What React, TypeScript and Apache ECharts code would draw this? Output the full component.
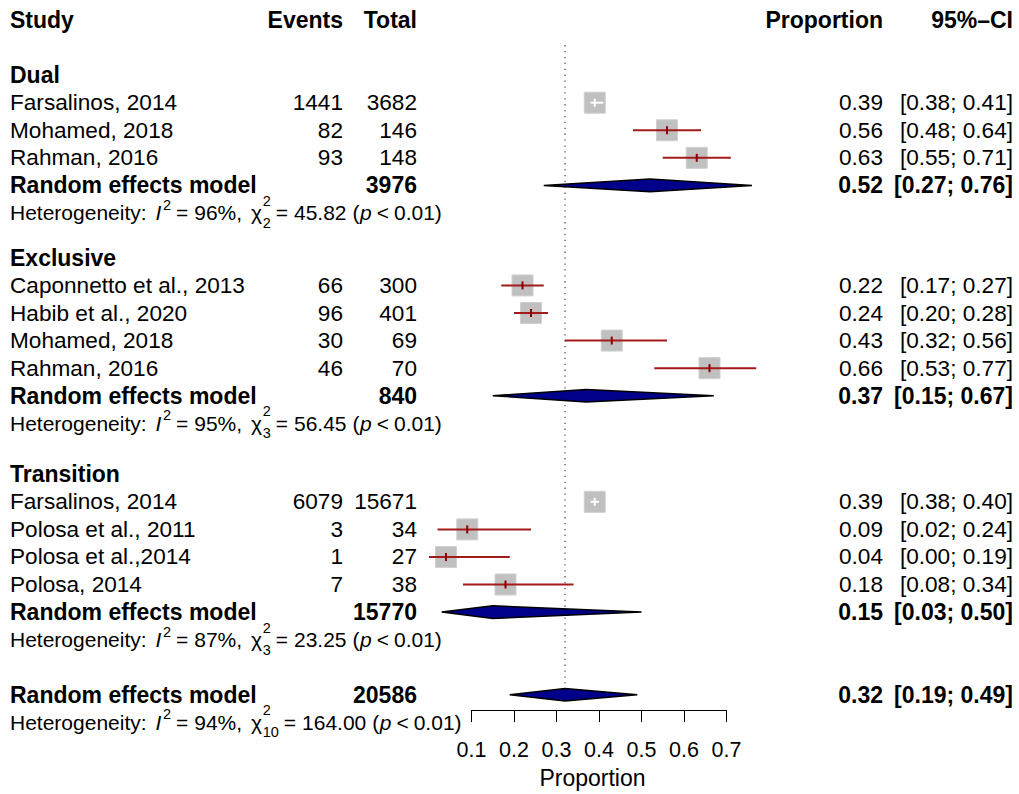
import React, { useEffect, useRef } from "react";
import * as echarts from "echarts";

// ---- data ----
const groupLabels = ["Dual", "Exclusive", "Transition"];

const studyNames = [
  "Farsalinos, 2014",
  "Mohamed, 2018",
  "Rahman, 2016",
  "Caponnetto et al., 2013",
  "Habib et al., 2020",
  "Mohamed, 2018",
  "Rahman, 2016",
  "Farsalinos, 2014",
  "Polosa et al., 2011",
  "Polosa et al.,2014",
  "Polosa, 2014",
];
const studyGroup = [0, 0, 0, 1, 1, 1, 1, 2, 2, 2, 2];
const studyEvents = [1441, 82, 93, 66, 96, 30, 46, 6079, 3, 1, 7];
const studyTotals = [3682, 146, 148, 300, 401, 69, 70, 15671, 34, 27, 38];
const studyProp = [0.39, 0.56, 0.63, 0.22, 0.24, 0.43, 0.66, 0.39, 0.09, 0.04, 0.18];
const studyLower = [0.38, 0.48, 0.55, 0.17, 0.2, 0.32, 0.53, 0.38, 0.02, 0.0, 0.08];
const studyUpper = [0.41, 0.64, 0.71, 0.27, 0.28, 0.56, 0.77, 0.4, 0.24, 0.19, 0.34];

const subgroupTotals = [3976, 840, 15770];
const subgroupProp = [0.52, 0.37, 0.15];
const subgroupLower = [0.27, 0.15, 0.03];
const subgroupUpper = [0.76, 0.67, 0.5];
const subgroupI2 = [96, 95, 87];
const subgroupDf = [2, 3, 3];
const subgroupQ = [45.82, 56.45, 23.25];
const subgroupP = ["0.01", "0.01", "0.01"];

const overallTotal = 20586;
const overallProp = 0.32;
const overallLower = 0.19;
const overallUpper = 0.49;
const overallI2 = 94;
const overallDf = 10;
const overallQ = 164.0;
const overallP = "0.01";

const axisTicks = [0.1, 0.2, 0.3, 0.4, 0.5, 0.6, 0.7];

const headers = {
  study: "Study",
  events: "Events",
  total: "Total",
  prop: "Proportion",
  ci: "95%\u2013CI",
};
const pooledLabel = "Random effects model";
const axisTitle = "Proportion";

// ---- layout ----
const W = 1019;
const H = 794;
const FONT = '"Liberation Sans", Arial, Helvetica, sans-serif';
const MAIN_SIZE = 22.6;
const BOLD_SIZE = 23;
const HET_SIZE = 21;
const SCRIPT_SIZE = 14.5;
const TICK_SIZE = 21.5;
const ROW_HEIGHT = 27.6;
const GRID_TOP = 20;
const GRID_BOTTOM = 83;
const Y_MAX = (H - GRID_TOP - GRID_BOTTOM) / ROW_HEIGHT;
const GROUP_START_ROW = [2, 8.63, 16.48];
const OVERALL_ROW = 24.48;
const REF_LINE_TOP_ROW = 0.91;
const REF_LINE_BOTTOM_ROW = 24.2;

const COL_STUDY = 10;
const COL_EVENTS = 343;
const COL_TOTAL = 417;
const COL_PROP = 883;
const COL_CI = 1013;

const SQUARE = 21;
const DIAMOND_HALF = 6.3;

const fmt2 = (v: number) => v.toFixed(2);
const ciText = (lo: number, hi: number) => `[${fmt2(lo)}; ${fmt2(hi)}]`;

// row positions for each study
const studyRow: number[] = [];
{
  const seen = [0, 0, 0];
  studyGroup.forEach((g) => {
    seen[g] += 1;
    studyRow.push(GROUP_START_ROW[g] + seen[g]);
  });
}
const groupCounts = groupLabels.map((_, g) => studyGroup.filter((x) => x === g).length);
const subgroupRow = groupLabels.map((_, g) => GROUP_START_ROW[g] + groupCounts[g] + 1);

type Row =
  | { kind: "header"; row: number }
  | { kind: "group"; row: number; g: number }
  | { kind: "study"; row: number; i: number }
  | { kind: "pooled"; row: number; total: number; est: number; lo: number; hi: number }
  | { kind: "het"; row: number; i2: number; df: number; q: number; p: string };

const tableRows: Row[] = [{ kind: "header", row: 0 }];
groupLabels.forEach((_, g) => {
  tableRows.push({ kind: "group", row: GROUP_START_ROW[g], g });
  studyGroup.forEach((sg, i) => {
    if (sg === g) tableRows.push({ kind: "study", row: studyRow[i], i });
  });
  tableRows.push({
    kind: "pooled",
    row: subgroupRow[g],
    total: subgroupTotals[g],
    est: subgroupProp[g],
    lo: subgroupLower[g],
    hi: subgroupUpper[g],
  });
  tableRows.push({
    kind: "het",
    row: subgroupRow[g] + 1,
    i2: subgroupI2[g],
    df: subgroupDf[g],
    q: subgroupQ[g],
    p: subgroupP[g],
  });
});
tableRows.push({
  kind: "pooled",
  row: OVERALL_ROW,
  total: overallTotal,
  est: overallProp,
  lo: overallLower,
  hi: overallUpper,
});
tableRows.push({ kind: "het", row: OVERALL_ROW + 1, i2: overallI2, df: overallDf, q: overallQ, p: overallP });

// ---- helpers ----
let measureCtx: CanvasRenderingContext2D | null = null;
function measure(text: string, size: number, italic = false, bold = false) {
  if (!measureCtx) measureCtx = document.createElement("canvas").getContext("2d");
  if (!measureCtx) return text.length * size * 0.55;
  measureCtx.font = `${italic ? "italic " : ""}${bold ? "bold " : ""}${size}px ${FONT}`;
  return measureCtx.measureText(text).width;
}

type TOpts = { size?: number; bold?: boolean; italic?: boolean; align?: "left" | "right" | "center" };
function textEl(text: string, x: number, y: number, o: TOpts = {}) {
  const align = o.align ?? "left";
  return {
    type: "text",
    x,
    y,
    silent: true,
    style: {
      text,
      fill: "#000",
      fontSize: o.size ?? (o.bold ? BOLD_SIZE : MAIN_SIZE),
      fontFamily: FONT,
      fontWeight: o.bold ? "bold" : "normal",
      fontStyle: o.italic ? "italic" : "normal",
      align,
      textAlign: align,
      verticalAlign: "middle",
      textVerticalAlign: "middle",
    },
  };
}

// heterogeneity statistics line, laid out piece by piece so the
// chi-square super- and subscript can be stacked
function hetElements(r: Extract<Row, { kind: "het" }>, y: number) {
  const out: any[] = [];
  let x = COL_STUDY;
  const put = (t: string, size: number, italic: boolean, dy: number) => {
    out.push(textEl(t, x, y + dy, { size, italic }));
    return measure(t, size, italic);
  };
  x += put("Heterogeneity:", HET_SIZE, false, 0) + 9;
  x += put("I", HET_SIZE, true, 0) + 1.5;
  x += put("2", SCRIPT_SIZE, false, -8) + 5;
  x += put("=", HET_SIZE, false, 0) + 6;
  x += put(`${r.i2}%,`, HET_SIZE, false, 0) + 9;
  x += put("\u03c7", HET_SIZE, false, 0) + 0.5;
  const wSup = put("2", SCRIPT_SIZE, false, -12);
  const wSub = put(String(r.df), SCRIPT_SIZE, false, 10);
  x += Math.max(wSup, wSub) + 5;
  x += put("=", HET_SIZE, false, 0) + 6;
  x += put(r.q.toFixed(2), HET_SIZE, false, 0) + 6;
  x += put("(", HET_SIZE, false, 0) + 0.5;
  x += put("p", HET_SIZE, true, 0) + 5;
  x += put("<", HET_SIZE, false, 0) + 5;
  put(`${r.p})`, HET_SIZE, false, 0);
  return out;
}

function tableRenderItem(params: any, api: any) {
  const r = tableRows[params.dataIndex];
  const y = api.coord([axisTicks[0], r.row])[1];
  let children: any[] = [];
  if (r.kind === "header") {
    children = [
      textEl(headers.study, COL_STUDY, y, { bold: true }),
      textEl(headers.events, COL_EVENTS, y, { bold: true, align: "right" }),
      textEl(headers.total, COL_TOTAL, y, { bold: true, align: "right" }),
      textEl(headers.prop, COL_PROP, y, { bold: true, align: "right" }),
      textEl(headers.ci, COL_CI, y, { bold: true, align: "right" }),
    ];
  } else if (r.kind === "group") {
    children = [textEl(groupLabels[r.g], COL_STUDY, y, { bold: true })];
  } else if (r.kind === "study") {
    const i = r.i;
    children = [
      textEl(studyNames[i], COL_STUDY, y),
      textEl(String(studyEvents[i]), COL_EVENTS, y, { align: "right" }),
      textEl(String(studyTotals[i]), COL_TOTAL, y, { align: "right" }),
      textEl(fmt2(studyProp[i]), COL_PROP, y, { align: "right" }),
      textEl(ciText(studyLower[i], studyUpper[i]), COL_CI, y, { align: "right" }),
    ];
  } else if (r.kind === "pooled") {
    children = [
      textEl(pooledLabel, COL_STUDY, y, { bold: true }),
      textEl(String(r.total), COL_TOTAL, y, { bold: true, align: "right" }),
      textEl(fmt2(r.est), COL_PROP, y, { bold: true, align: "right" }),
      textEl(ciText(r.lo, r.hi), COL_CI, y, { bold: true, align: "right" }),
    ];
  } else {
    children = hetElements(r, y);
  }
  return { type: "group", children };
}

function studyRenderItem(_params: any, api: any) {
  const est = api.value(0);
  const lo = api.value(1);
  const hi = api.value(2);
  const row = api.value(3);
  const [cx, cy] = api.coord([est, row]);
  const xLo = api.coord([lo, row])[0];
  const xHi = api.coord([hi, row])[0];
  const half = SQUARE / 2;
  const inside = xLo >= cx - half && xHi <= cx + half;
  const lineColor = inside ? "#ffffff" : "#a31a1a";
  const tickColor = inside ? "#ffffff" : "#8b0000";
  return {
    type: "group",
    children: [
      {
        type: "rect",
        shape: { x: cx - half, y: cy - half, width: SQUARE, height: SQUARE },
        style: { fill: "#c0c0c0", stroke: "#d0d0d0", lineWidth: 1 },
      },
      {
        type: "line",
        shape: { x1: xLo, y1: cy, x2: xHi, y2: cy },
        style: { stroke: lineColor, lineWidth: 2 },
      },
      {
        type: "line",
        shape: { x1: cx, y1: cy - 4, x2: cx, y2: cy + 4 },
        style: { stroke: tickColor, lineWidth: 2 },
      },
    ],
  };
}

function diamondRenderItem(_params: any, api: any) {
  const est = api.value(0);
  const lo = api.value(1);
  const hi = api.value(2);
  const row = api.value(3);
  const [cx, cy] = api.coord([est, row]);
  const xLo = api.coord([lo, row])[0];
  const xHi = api.coord([hi, row])[0];
  return {
    type: "polygon",
    shape: {
      points: [
        [xLo, cy],
        [cx, cy - DIAMOND_HALF],
        [xHi, cy],
        [cx, cy + DIAMOND_HALF],
      ],
    },
    style: { fill: "#00008b", stroke: "#000000", lineWidth: 1.5 },
  };
}

function refLineRenderItem(_params: any, api: any) {
  const v = api.value(0);
  const [x, y1] = api.coord([v, REF_LINE_TOP_ROW]);
  const y2 = api.coord([v, REF_LINE_BOTTOM_ROW])[1];
  return {
    type: "line",
    shape: { x1: x, y1, x2: x, y2 },
    style: { stroke: "#555555", lineWidth: 1.3, lineDash: [1.3, 4.6] },
  };
}

export default function App() {
  const ref = useRef<HTMLDivElement>(null);

  useEffect(() => {
    if (!ref.current) return;
    const chart = echarts.init(ref.current, undefined, { renderer: "svg" });

    const x0 = axisTicks[0];
    const x1 = axisTicks[axisTicks.length - 1];

    const diamondData = [
      ...subgroupProp.map((p, g) => [p, subgroupLower[g], subgroupUpper[g], subgroupRow[g]]),
      [overallProp, overallLower, overallUpper, OVERALL_ROW],
    ];

    chart.setOption({
      animation: false,
      backgroundColor: "#ffffff",
      textStyle: { fontFamily: FONT },
      grid: { left: 471.5, right: 292.5, top: GRID_TOP, bottom: GRID_BOTTOM, containLabel: false },
      xAxis: {
        type: "value",
        min: x0,
        max: x1,
        interval: 0.1,
        position: "bottom",
        name: axisTitle,
        nameLocation: "middle",
        nameGap: 55,
        nameTextStyle: {
          fontSize: BOLD_SIZE,
          color: "#000",
          fontFamily: FONT,
          padding: [0, 13, 0, 0],
        },
        axisLine: { show: true, onZero: false, lineStyle: { color: "#000", width: 1 } },
        axisTick: { show: true, length: 12, lineStyle: { color: "#000", width: 1 } },
        axisLabel: {
          fontSize: TICK_SIZE,
          color: "#000",
          fontFamily: FONT,
          margin: 29,
          formatter: (v: number) => v.toFixed(1),
        },
        splitLine: { show: false },
      },
      yAxis: {
        type: "value",
        inverse: true,
        min: 0,
        max: Y_MAX,
        show: false,
        splitLine: { show: false },
      },
      series: [
        {
          type: "custom",
          name: "reference",
          clip: false,
          silent: true,
          data: [[overallProp, OVERALL_ROW]],
          encode: { x: 0, y: 1 },
          renderItem: refLineRenderItem,
          z: 1,
        },
        {
          type: "custom",
          name: "studies",
          clip: false,
          silent: true,
          data: studyProp.map((p, i) => [p, studyLower[i], studyUpper[i], studyRow[i]]),
          encode: { x: 0, y: 3 },
          renderItem: studyRenderItem,
          z: 2,
        },
        {
          type: "custom",
          name: "pooled",
          clip: false,
          silent: true,
          data: diamondData,
          encode: { x: 0, y: 3 },
          renderItem: diamondRenderItem,
          z: 3,
        },
        {
          type: "custom",
          name: "table",
          clip: false,
          silent: true,
          data: tableRows.map((r) => [x0, r.row]),
          encode: { x: 0, y: 1 },
          renderItem: tableRenderItem,
          z: 4,
        },
      ],
    });

    return () => chart.dispose();
  }, []);

  return (
    <div
      ref={ref}
      style={{ position: "absolute", left: 0, top: 0, width: W, height: H, background: "#fff" }}
    />
  );
}
